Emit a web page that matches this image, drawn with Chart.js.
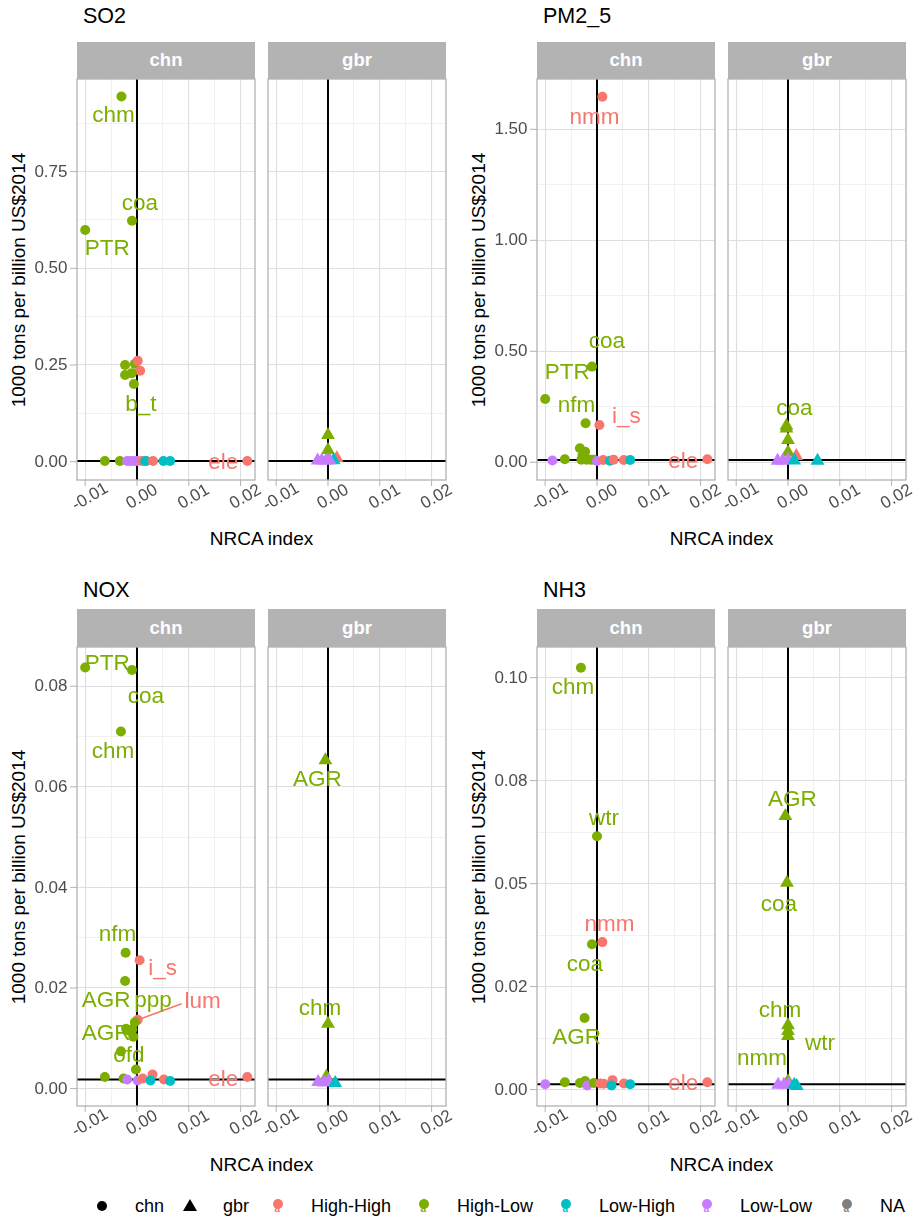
<!DOCTYPE html>
<html><head><meta charset="utf-8">
<script src="https://cdn.jsdelivr.net/npm/chart.js@4.4.1/dist/chart.umd.min.js"></script>
<style>
body{margin:0;background:#fff;}
#root{position:relative;width:917px;height:1222px;overflow:hidden;font-family:"Liberation Sans",Arial,sans-serif;background:#fff;}
.abs{position:absolute;line-height:1;white-space:nowrap;}
.title{font-size:21.5px;color:#000;transform:translateY(-50%);}
.strip{background:#B3B3B3;color:#fff;font-weight:bold;font-size:18.5px;display:flex;align-items:center;justify-content:center;}
.xt{font-size:19px;color:#000;transform:translate(-50%,-50%);}
.yt{font-size:19px;color:#000;transform:translate(-50%,-50%) rotate(-90deg);}
.lg{font-size:18px;color:#000;transform:translateY(-50%);}
canvas{position:absolute;}
</style></head><body><div id="root"></div>
<script>
// ---------------- data ----------------
const regions = ['chn', 'gbr'];
const pollutants = ['SO2', 'PM2_5', 'NOX', 'NH3'];
const categories = ['High-High', 'High-Low', 'Low-High', 'Low-Low', 'NA'];
const categoryCodes = ['HH', 'HL', 'LH', 'LL', 'NA'];
const categoryColors = ['#F8766D', '#7CAE00', '#00BFC4', '#C77CFF', '#7F7F7F'];

const xAxisRange = [-0.01158, 0.02278];
const xTickValues = [-0.01, 0, 0.01, 0.02];
const xTickLabels = ['-0.01', '0.00', '0.01', '0.02'];
const xAxisTitle = 'NRCA index';
const yAxisTitle = '1000 tons per billion US$2014';

const so2YRange = [-0.0473, 0.9894];
const so2YTicks = [0, 0.25, 0.5, 0.75];
const so2YLabels = ['0.00', '0.25', '0.50', '0.75'];
const so2Hline = 0.002;
const so2Chn = [
  [-0.0030, 0.944, 'HL', 'chm'], [-0.00097, 0.623, 'HL', 'coa'], [-0.0100, 0.599, 'HL', 'PTR'],
  [-0.0023, 0.250, 'HL'], [-0.0004, 0.253, 'HL'], [0.00014, 0.261, 'HH'], [0.0006, 0.235, 'HH'],
  [-0.0023, 0.224, 'HL'], [-0.0010, 0.229, 'HL'], [-0.0006, 0.201, 'HL', 'b_t'],
  [-0.0062, 0.002, 'HL'], [-0.0033, 0.002, 'HL'], [-0.0019, 0.002, 'LL'], [-0.0012, 0.002, 'LL'],
  [-0.0005, 0.002, 'LL'], [0.0, 0.002, 'LL'], [0.0009, 0.002, 'HH'], [0.0018, 0.002, 'HH'],
  [0.0016, 0.002, 'LH'], [0.0031, 0.002, 'HH'], [0.0051, 0.002, 'LH'], [0.0064, 0.002, 'LH'],
  [0.0213, 0.002, 'HH', 'ele']
];
const so2Gbr = [
  [0.0, 0.069, 'HL'], [0.0, 0.030, 'HL'], [0.0, 0.010, 'HL'], [0.0017, 0.009, 'HH'], [0.0011, 0.004, 'LH'],
  [-0.0020, 0.003, 'LL'], [-0.0012, 0.003, 'LL'], [-0.0003, 0.003, 'LL'], [0.0003, 0.004, 'LL']
];

const pm25YRange = [-0.0797, 1.7266];
const pm25YTicks = [0, 0.5, 1.0, 1.5];
const pm25YLabels = ['0.00', '0.50', '1.00', '1.50'];
const pm25Hline = 0.01;
const pm25Chn = [
  [0.00104, 1.647, 'HH', 'nmm'], [-0.00097, 0.431, 'HL', 'coa'], [-0.0100, 0.285, 'HL', 'PTR'],
  [-0.0022, 0.176, 'HL', 'nfm'], [0.00046, 0.168, 'HH', 'i_s'],
  [-0.0033, 0.063, 'HL'], [-0.0023, 0.048, 'HL'], [-0.0028, 0.030, 'HL'], [-0.0030, 0.012, 'HL'],
  [-0.0020, 0.012, 'HL'], [-0.0012, 0.012, 'HL'], [-0.0006, 0.012, 'HL'], [-0.0062, 0.014, 'HL'],
  [-0.0086, 0.008, 'LL'], [0.0, 0.006, 'LL'], [0.0012, 0.010, 'HH'], [0.0025, 0.007, 'LH'],
  [0.0032, 0.012, 'HH'], [0.0052, 0.010, 'HH'], [0.0064, 0.010, 'LH'], [0.0213, 0.014, 'HH', 'ele']
];
const pm25Gbr = [
  [-0.0003, 0.165, 'HL', 'coa'], [-0.0003, 0.152, 'HL'], [0.0, 0.100, 'HL'], [0.0, 0.045, 'HL'],
  [0.0016, 0.028, 'HH'], [-0.0020, 0.007, 'LL'], [-0.0010, 0.007, 'LL'], [0.0, 0.010, 'LL'],
  [0.0012, 0.008, 'LH'], [0.0057, 0.007, 'LH']
];

const noxYRange = [-0.00346, 0.08779];
const noxYTicks = [0, 0.02, 0.04, 0.06, 0.08];
const noxYLabels = ['0.00', '0.02', '0.04', '0.06', '0.08'];
const noxHline = 0.0018;
const noxChn = [
  [-0.0100, 0.0837, 'HL', 'PTR'], [-0.00097, 0.0832, 'HL', 'coa'], [-0.0031, 0.0710, 'HL', 'chm'],
  [-0.0022, 0.0270, 'HL', 'nfm'], [0.0005, 0.0255, 'HH', 'i_s'], [-0.0023, 0.0214, 'HL'],
  [0.00014, 0.0137, 'HH', 'lum'], [-0.0004, 0.0132, 'HL', 'ppp'], [-0.0021, 0.0119, 'HL', 'AGR'],
  [-0.0015, 0.0115, 'HL', 'AGR'], [-0.0009, 0.0118, 'HL'], [-0.0007, 0.0103, 'HL'],
  [-0.0031, 0.0074, 'HL', 'ofd'], [-0.0002, 0.0038, 'HL'], [-0.0062, 0.0023, 'HL'],
  [-0.0026, 0.0020, 'HL'], [-0.0019, 0.0018, 'LL'], [0.0001, 0.0016, 'LL'], [0.0011, 0.0020, 'HH'],
  [0.0030, 0.0028, 'HH'], [0.0026, 0.0016, 'LH'], [0.0052, 0.0018, 'HH'], [0.0064, 0.0015, 'LH'],
  [0.0213, 0.0023, 'HH', 'ele']
];
const noxGbr = [
  [-0.0005, 0.0653, 'HL', 'AGR'], [0.0, 0.0129, 'HL', 'chm'], [-0.0003, 0.0024, 'HL'],
  [-0.0019, 0.0013, 'LL'], [-0.0008, 0.0012, 'LL'], [0.0001, 0.0015, 'LL'], [0.0014, 0.0011, 'LH']
];

const nh3YRange = [-0.00398, 0.10743];
const nh3YTicks = [0, 0.025, 0.05, 0.075, 0.1];
const nh3YLabels = ['0.00', '0.02', '0.05', '0.08', '0.10'];
const nh3Hline = 0.0013;
const nh3Chn = [
  [-0.0031, 0.1024, 'HL', 'chm'], [0.0, 0.0615, 'HL', 'wtr'], [-0.00097, 0.0353, 'HL', 'coa'],
  [0.00104, 0.0358, 'HH', 'nmm'], [-0.0024, 0.0174, 'HL', 'AGR'],
  [-0.0100, 0.0013, 'LL'], [-0.0062, 0.0018, 'HL'], [-0.0033, 0.0016, 'HL'], [-0.0023, 0.0021, 'HL'],
  [-0.0019, 0.0010, 'LL'], [-0.0006, 0.0016, 'HL'], [0.0006, 0.0015, 'HH'], [0.0013, 0.0014, 'HH'],
  [0.0030, 0.0023, 'HH'], [0.0028, 0.0010, 'LH'], [0.0052, 0.0015, 'HH'], [0.0064, 0.0013, 'LH'],
  [0.0213, 0.0018, 'HH', 'ele']
];
const nh3Gbr = [
  [-0.0005, 0.0664, 'HL', 'AGR'], [-0.0002, 0.0502, 'HL', 'coa'], [0.0, 0.0156, 'HL', 'chm'],
  [0.0, 0.0142, 'HL'], [0.0, 0.0130, 'HL', 'wtr'], [0.0, 0.0020, 'HL', 'nmm'],
  [-0.0019, 0.0012, 'LL'], [-0.0008, 0.0012, 'LL'], [0.0001, 0.0013, 'LL'], [0.0012, 0.0012, 'LH'],
  [0.0017, 0.0009, 'LH']
];

// --------------- layout / style (label nudges in px, in order of labelled points) ---------------
const nudges = {
  SO2_chn: [[-8, 19], [8, -17], [22, 19], [7, 21], [-24, 2]],
  SO2_gbr: [],
  PM2_5_chn: [[-8, 21], [15, -25], [22, -26], [-9, -17], [27, -8], [-24, 3]],
  PM2_5_gbr: [[8, -17]],
  NOX_chn: [[22, -4], [14, 27], [-8, 20], [-8, -18], [23, 8], [65, -18, true], [18, -21], [-20, -28], [-23, 3], [8, 4], [-24, 3]],
  NOX_gbr: [[-8, 20], [-8, -15]],
  NH3_chn: [[-8, 20], [7, -17], [-7, 21], [7, -17], [-8, 20], [-24, 2]],
  NH3_gbr: [[7, -16], [-8, 22], [-8, -15], [32, 8], [-26, -23]]
};

const panels = [
  {name: pollutants[0], col: 0, row: 0, yRange: so2YRange, yTicks: so2YTicks, yLabels: so2YLabels, hline: so2Hline, data: [so2Chn, so2Gbr]},
  {name: pollutants[1], col: 1, row: 0, yRange: pm25YRange, yTicks: pm25YTicks, yLabels: pm25YLabels, hline: pm25Hline, data: [pm25Chn, pm25Gbr]},
  {name: pollutants[2], col: 0, row: 1, yRange: noxYRange, yTicks: noxYTicks, yLabels: noxYLabels, hline: noxHline, data: [noxChn, noxGbr]},
  {name: pollutants[3], col: 1, row: 1, yRange: nh3YRange, yTicks: nh3YTicks, yLabels: nh3YLabels, hline: nh3Hline, data: [nh3Chn, nh3Gbr]}
];

const colX = [0, 460];
const plotTop = [79, 647];
const plotBottom = [480, 1106];
const stripTop = [42, 609];
const titleY = [17, 591];
const facetX = [[77, 255], [268, 446]];
const FONT = '"Liberation Sans", Arial, sans-serif';

const colorOf = code => categoryColors[categoryCodes.indexOf(code)];
const root = document.getElementById('root');

function addDiv(cls, text, style) {
  const d = document.createElement('div');
  d.className = 'abs ' + cls;
  d.textContent = text;
  Object.assign(d.style, style);
  root.appendChild(d);
  return d;
}

function gridValues(majors, lo, hi) {
  const step = majors[1] - majors[0];
  const out = majors.map(v => ({value: v, major: true}));
  for (let v = majors[0] - step / 2; v <= hi + 1e-12; v += step) {
    if (v >= lo) out.push({value: v, major: false});
  }
  return out.sort((a, b) => a.value - b.value);
}

function facetPlugin(panel, fi, nudgeList) {
  return {
    id: 'facet' + panel.name + fi,
    beforeDatasetsDraw(chart) {
      const {ctx, chartArea: a, scales: {x, y}} = chart;
      ctx.save();
      ctx.strokeStyle = '#000';
      ctx.lineWidth = 2;
      const x0 = x.getPixelForValue(0);
      const y0 = y.getPixelForValue(panel.hline);
      ctx.beginPath();
      ctx.moveTo(x0, a.top); ctx.lineTo(x0, a.bottom);
      ctx.moveTo(a.left, y0); ctx.lineTo(a.right, y0);
      ctx.stroke();
      ctx.restore();
    },
    afterDatasetsDraw(chart) {
      const {ctx, chartArea: a, scales: {x, y}} = chart;
      const pts = panel.data[fi];
      ctx.save();
      ctx.font = '22.5px ' + FONT;
      ctx.textAlign = 'center';
      ctx.textBaseline = 'middle';
      let k = 0;
      pts.forEach(p => {
        if (!p[3]) return;
        const n = nudgeList[k++] || [0, 0];
        const px = x.getPixelForValue(p[0]), py = y.getPixelForValue(p[1]);
        const lx = px + n[0], ly = py + n[1];
        ctx.fillStyle = colorOf(p[2]);
        if (n[2]) {
          const w = ctx.measureText(p[3]).width;
          ctx.strokeStyle = colorOf(p[2]);
          ctx.lineWidth = 1.6;
          ctx.beginPath();
          ctx.moveTo(px + 3, py - 1);
          ctx.lineTo(lx - w / 2 - 3, ly + 2);
          ctx.stroke();
        }
        ctx.fillText(p[3], lx, ly);
      });
      // panel border
      ctx.strokeStyle = '#B3B3B3';
      ctx.lineWidth = 1.3;
      ctx.strokeRect(a.left, a.top, a.right - a.left, a.bottom - a.top);
      // x ticks and labels
      ctx.font = '17px ' + FONT;
      ctx.fillStyle = '#4D4D4D';
      ctx.lineWidth = 1;
      xTickValues.forEach((v, i) => {
        const px = x.getPixelForValue(v);
        ctx.beginPath();
        ctx.moveTo(px, a.bottom); ctx.lineTo(px, a.bottom + 6);
        ctx.stroke();
        ctx.save();
        ctx.translate(px + 5, a.bottom + 17);
        ctx.rotate(-Math.PI / 6);
        ctx.textAlign = 'center';
        ctx.textBaseline = 'middle';
        ctx.fillText(xTickLabels[i], 0, 0);
        ctx.restore();
      });
      // y ticks and labels on first facet
      if (fi === 0) {
        ctx.textAlign = 'right';
        ctx.textBaseline = 'middle';
        panel.yTicks.forEach((v, i) => {
          const py = y.getPixelForValue(v);
          ctx.beginPath();
          ctx.moveTo(a.left - 7, py); ctx.lineTo(a.left, py);
          ctx.stroke();
          ctx.fillText(panel.yLabels[i], a.left - 9.5, py + 0.5);
        });
      }
      ctx.restore();
    }
  };
}

const xGrid = gridValues(xTickValues, xAxisRange[0], xAxisRange[1]);

panels.forEach(panel => {
  const cx = colX[panel.col], r = panel.row;
  const top = plotTop[r], bottom = plotBottom[r];
  addDiv('title', panel.name, {left: (cx + 83) + 'px', top: titleY[r] + 'px'});
  addDiv('xt', xAxisTitle, {left: (cx + 261.5) + 'px', top: (bottom + 58) + 'px'});
  addDiv('yt', yAxisTitle, {left: (cx + 17.5) + 'px', top: ((top + bottom) / 2) + 'px'});
  const yGrid = gridValues(panel.yTicks, panel.yRange[0], panel.yRange[1]);

  regions.forEach((reg, fi) => {
    const [fx0, fx1] = facetX[fi];
    addDiv('strip', reg, {left: (cx + fx0) + 'px', top: stripTop[r] + 'px', width: (fx1 - fx0) + 'px', height: (top - stripTop[r]) + 'px'});
    const padL = fi === 0 ? 80 : 15, padR = 15, padT = 15, padB = 50;
    const cv = document.createElement('canvas');
    const W = (fx1 - fx0) + padL + padR, H = (bottom - top) + padT + padB;
    cv.width = W; cv.height = H;
    cv.style.left = (cx + fx0 - padL) + 'px';
    cv.style.top = (top - padT) + 'px';
    cv.style.width = W + 'px'; cv.style.height = H + 'px';
    root.appendChild(cv);
    const pts = panel.data[fi];
    const gridStyle = {
      drawTicks: false,
      color: c => (c.tick && c.tick.major) ? '#DEDEDE' : '#E8E8E8',
      lineWidth: c => (c.tick && c.tick.major) ? 1.1 : 0.6
    };
    new Chart(cv, {
      type: 'scatter',
      data: {
        datasets: [{
          data: pts.map(p => ({x: p[0], y: p[1]})),
          backgroundColor: pts.map(p => colorOf(p[2])),
          borderWidth: 0,
          pointStyle: fi === 0 ? 'circle' : 'triangle',
          pointRadius: fi === 0 ? 5 : 8,
          pointHoverRadius: fi === 0 ? 5 : 8,
          clip: false
        }]
      },
      options: {
        responsive: false,
        animation: false,
        devicePixelRatio: 1,
        events: [],
        layout: {padding: {left: padL, right: padR, top: padT, bottom: padB}},
        plugins: {legend: {display: false}, tooltip: {enabled: false}},
        scales: {
          x: {
            type: 'linear', min: xAxisRange[0], max: xAxisRange[1],
            afterBuildTicks: s => { s.ticks = xGrid.map(g => ({value: g.value, major: g.major})); },
            afterFit: s => { s.height = 0; },
            ticks: {display: false}, border: {display: false}, grid: gridStyle
          },
          y: {
            type: 'linear', min: panel.yRange[0], max: panel.yRange[1],
            afterBuildTicks: s => { s.ticks = yGrid.map(g => ({value: g.value, major: g.major})); },
            afterFit: s => { s.width = 0; },
            ticks: {display: false}, border: {display: false}, grid: gridStyle
          }
        }
      },
      plugins: [facetPlugin(panel, fi, nudges[panel.name + '_' + reg])]
    });
  });
});

// ---------------- legend ----------------
const legendY = 1206;
const shapeKeyX = [102, 190];
const shapeTextX = [135, 223];
const catKeyX = [278, 424, 566, 707, 847];
const catTextX = [311, 457, 599, 740, 880];

regions.forEach((reg, i) => {
  const k = document.createElement('div');
  k.className = 'abs';
  if (i === 0) {
    Object.assign(k.style, {left: (shapeKeyX[i] - 5) + 'px', top: (legendY - 5) + 'px', width: '10px', height: '10px', borderRadius: '50%', background: '#000'});
  } else {
    Object.assign(k.style, {left: (shapeKeyX[i] - 7) + 'px', top: (legendY - 7) + 'px', width: 0, height: 0,
      borderLeft: '7px solid transparent', borderRight: '7px solid transparent', borderBottom: '12px solid #000'});
  }
  root.appendChild(k);
  addDiv('lg', reg, {left: shapeTextX[i] + 'px', top: legendY + 'px'});
});
categories.forEach((c, i) => {
  const k = document.createElement('div');
  k.className = 'abs';
  Object.assign(k.style, {left: (catKeyX[i] - 5) + 'px', top: (legendY - 7) + 'px', width: '10px', height: '10px', borderRadius: '50%', background: categoryColors[i]});
  root.appendChild(k);
  addDiv('', 'a', {left: (catKeyX[i] - 3.5) + 'px', top: (legendY - 2) + 'px', fontSize: '10px', color: categoryColors[i], fontWeight: 'bold'});
  addDiv('lg', c, {left: catTextX[i] + 'px', top: legendY + 'px'});
});
</script></body></html>
